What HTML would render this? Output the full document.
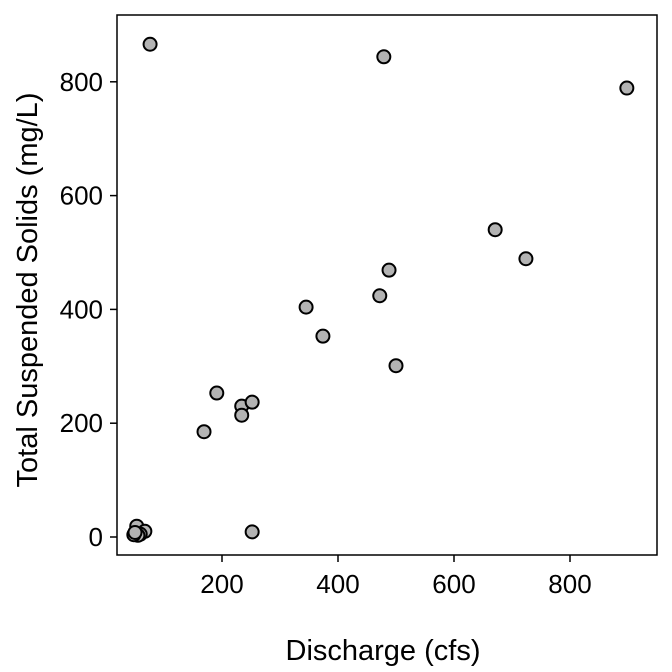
<!DOCTYPE html>
<html><head><meta charset="utf-8"><style>body{margin:0;background:#fff}svg{display:block;font-family:"Liberation Sans",sans-serif}</style></head>
<body>
<svg id="chart" width="672" height="672">
<rect x="117" y="15" width="540" height="540" fill="#fff" stroke="#000" stroke-width="1.5"/>
<g id="axes"></g><g id="pts"></g>
<text x="383" y="660" text-anchor="middle" font-size="29">Discharge (cfs)</text>
<text transform="translate(37,290) rotate(-90)" text-anchor="middle" font-size="29">Total Suspended Solids (mg/L)</text>
</svg>
<script>
const discharge=[53,67,59,55,48,50,76,479,898,671,724,488,472,345,374,500,191,234,252,234,169,252];
const tss=[19,10,5,3,4,8,866,844,789,540,489,469,424,404,353,301,253,230,237,214,185,9];
const xTicks=[200,400,600,800];
const yTicks=[0,200,400,600,800];
const sx=v=>106+v*0.58, sy=v=>537-v*0.569;
const ns="http://www.w3.org/2000/svg";
const ax=document.getElementById('axes'), pg=document.getElementById('pts');
function mk(t,a,p){const e=document.createElementNS(ns,t);for(const k in a)e.setAttribute(k,a[k]);p.appendChild(e);return e;}
xTicks.forEach(v=>{
 const l=mk('line',{x1:sx(v),x2:sx(v),y1:555,y2:562,stroke:'#000','stroke-width':1.5},ax);
 
 
 const t=mk('text',{x:sx(v),y:593,'text-anchor':'middle','font-size':26},ax);t.textContent=v;
 
 
});
yTicks.forEach(v=>{
 const l=mk('line',{x1:110,x2:117,y1:sy(v),y2:sy(v),stroke:'#000','stroke-width':1.5},ax);
 
 
 const t=mk('text',{x:103,y:sy(v)+9,'text-anchor':'end','font-size':26},ax);t.textContent=v;
 
 
});
discharge.forEach((d,i)=>{
 const c=mk('circle',{cx:sx(d),cy:sy(tss[i]),r:6.5,fill:'#b3b3b3',stroke:'#000','stroke-width':2},pg);
 
 
});
</script>
</body></html>
